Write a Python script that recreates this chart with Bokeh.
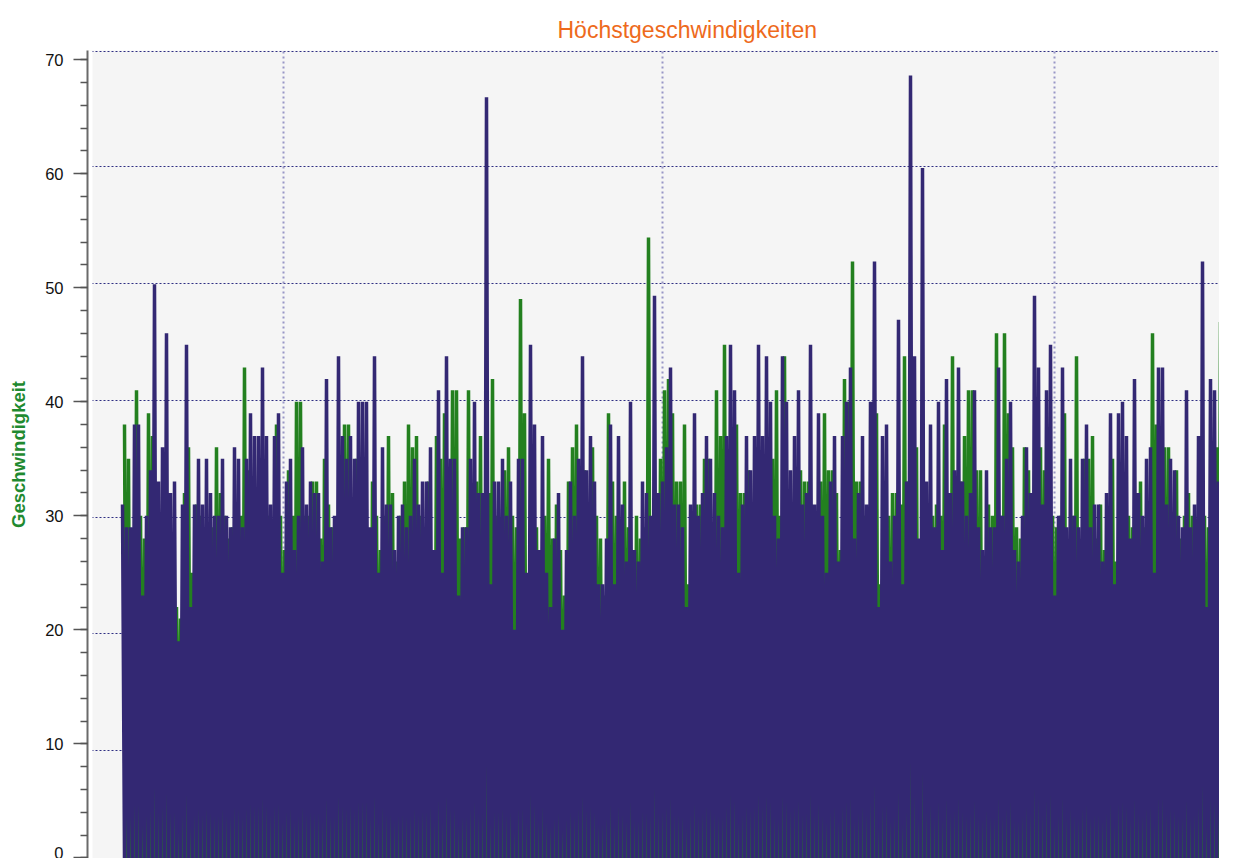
import numpy as np
from bokeh.plotting import figure
from bokeh.models import FixedTicker, SingleIntervalTicker, Grid, Range1d, Title, BoxAnnotation
from bokeh.embed import file_html
from bokeh.resources import INLINE

# ---- data (one value per sample) ----
title_text = "Höchstgeschwindigkeiten"
y_label = "Geschwindigkeit"

navy_peak = [
    31, 29, 29, 38, 38, 23, 30, 34, 50.3, 33, 36, 46, 32, 33, 19, 31, 45, 22, 31, 35,
    31, 35, 32, 30, 30, 35, 30, 29, 36, 35, 29, 35, 39, 37, 37, 43, 37, 31, 37, 39,
    25, 33, 35, 27, 30,
    36, 31, 33, 32, 32, 26, 42, 29, 30, 44, 37, 35, 37, 35, 40, 40, 40, 29, 44, 25,
    36, 31, 31, 27, 30, 31, 29, 30, 35, 31, 33, 33, 36, 27, 41, 25, 44, 35, 35, 23,
    29, 29, 35, 40, 32, 32,
    66.7, 24, 33, 33, 35, 30, 33, 20, 35, 35, 25, 45, 38, 27, 37, 25, 22, 28, 32, 20,
    27, 33, 30, 35, 44, 34, 37, 33, 24, 24, 28, 38, 24, 37, 31, 26, 40, 27, 26, 33,
    32, 30, 49.3, 32, 33, 36, 43,
    31, 31, 29, 22, 31, 39, 30, 32, 37, 35, 32, 30, 29, 37, 45, 41, 25, 31, 37, 34,
    37, 45, 37, 44, 40, 30, 28, 44, 40, 34, 37, 41, 31, 32, 45, 31, 39, 30, 25, 33,
    37, 26, 37, 40, 43, 28,
    32, 37, 31, 40, 52.3, 22, 37, 38, 26, 30, 47.2, 24, 33, 68.6, 44, 28, 60.5, 33, 38, 29,
    40, 27, 42, 32, 34, 43, 33, 30, 32, 41, 29, 27, 34, 29, 29, 43, 30, 35, 40, 27,
    26, 30, 36, 32, 49.3, 43, 31,
    41, 45, 23, 30, 43, 29, 35, 30, 29, 35, 38, 29, 31, 31, 26, 32, 39, 24, 39, 40,
    37, 28, 42, 32, 30, 35, 36, 25, 43, 43, 31, 35, 34, 30, 29, 41, 29, 31, 37, 52.3,
    22, 42, 41, 33, 31, 37, 29,
]

navy_low = [
    0, 0, 0, 0, 0, 0, 0, 0, 0, 0, 0, 0, 0, 0, 0, 0, 0, 0, 0, 0,
    0, 0, 0, 0, 0, 0, 0, 0, 0, 0, 0, 0, 0, 0, 0, 0, 0, 0, 0, 0,
    0, 0, 0, 0, 0, 0, 0, 0, 0, 0, 0, 0, 0, 0, 0, 0, 0, 0, 0, 0,
    0, 0, 0, 0, 0, 0, 0, 0, 0, 0, 0, 0, 0, 0, 0, 0, 0, 0, 0, 0,
    0, 0, 0, 0, 0, 0, 0, 0, 0, 0, 0, 0, 0, 0, 0, 0, 0, 0, 0, 0,
    0, 0, 0, 0, 0, 0, 0, 0, 0, 0, 0, 0, 0, 0, 0, 0, 0, 0, 0, 0,
    0, 0, 0, 0, 0, 0, 0, 0, 0, 0, 0, 0, 0, 0, 0, 0, 0, 0, 0, 0,
    0, 0, 0, 0, 0, 0, 0, 0, 0, 0, 0, 0, 0, 0, 0, 0, 0, 0, 0, 0,
    0, 0, 0, 0, 0, 0, 0, 0, 0, 0, 0, 0, 0, 0, 0, 0, 0, 0, 0, 0,
    0, 0, 0, 0, 0, 0, 0, 0, 0, 0, 0, 0, 0, 0, 0, 0, 0, 0, 0, 0,
    0, 0, 0, 0, 0, 0, 0, 0, 0, 0, 0, 0, 0, 0, 0, 0, 0, 0, 0, 0,
    0, 0, 0, 0, 0, 0, 0, 0, 0, 0, 0, 0, 0, 0, 0, 0, 0, 0, 0, 0,
    0, 0, 0, 0, 0, 0, 0, 0, 0, 0, 0, 0, 0, 0, 0, 0, 0, 0, 0, 0,
    0, 0, 0, 0, 0, 0, 0, 0, 0, 0, 0, 0, 0, 0, 0, 0, 0, 0,
]

green_peak = [
    38, 35, 26, 41, 30, 28, 39, 37, 30, 25, 30, 27, 26, 22, 21, 32, 36, 25, 31, 30,
    26, 28, 29, 36, 32, 30, 28, 29, 31, 30, 43, 34, 30, 29, 34, 31, 30, 27, 38, 30,
    27, 34, 30, 40, 40,
    30, 30, 33, 33, 28, 35, 31, 29, 26, 29, 38, 38, 30, 35, 33, 30, 28, 33, 30, 27,
    30, 37, 32, 26, 30, 33, 38, 36, 37, 30, 28, 33, 27, 37, 35, 39, 30, 41, 41, 28,
    29, 41, 30, 33, 37, 31,
    32, 42, 30, 29, 34, 36, 30, 29, 49, 39, 22, 30, 29, 24, 30, 35, 28, 31, 27, 23,
    33, 36, 38, 30, 34, 30, 36, 30, 28, 23, 39, 33, 30, 28, 33, 29, 27, 30, 28, 29,
    54.4, 28, 30, 35, 41, 42, 39,
    33, 33, 38, 24, 30, 31, 31, 35, 35, 29, 41, 37, 45, 30, 37, 38, 32, 32, 34, 30,
    36, 35, 28, 28, 35, 41, 30, 44, 28, 28, 33, 34, 33, 33, 30, 26, 33, 39, 34, 34,
    32, 27, 42, 40, 52.3, 33,
    33, 30, 28, 30, 39, 24, 28, 30, 32, 32, 31, 44, 33, 40, 36, 27, 30, 29, 30, 31,
    30, 38, 30, 44, 30, 33, 37, 41, 41, 34, 34, 26, 31, 30, 46, 30, 46, 39, 36, 29,
    28, 36, 34, 30, 37, 36, 34,
    31, 30, 29, 30, 39, 27, 30, 44, 26, 35, 35, 37, 28, 31, 27, 30, 35, 26, 30, 31,
    30, 29, 30, 33, 29, 30, 46, 38, 30, 36, 36, 30, 34, 28, 30, 32, 30, 28, 30, 30,
    29, 30, 36, 47, 36, 30, 38,
]

green_low = list(navy_low)

# ---- styling constants ----
NAVY = "#332873"
GREEN = "#23801f"
ORANGE = "#ee6a1c"
FONT = "Liberation Sans"
grid_y = [9.4, 19.64, 29.88, 40.12, 50.36, 60.6, 70.7]
grid_x = [40.25, 135, 233]


def zigzag(peaks, lows, shift):
    xs, ys = [], []
    for i, (a, b) in enumerate(zip(peaks, lows)):
        xs += [i + shift, i + shift + 0.5]
        ys += [a, b]
    return xs, ys


p = figure(width=1219, height=858, output_backend="svg", toolbar_location=None,
           x_axis_location=None,
           x_range=Range1d(-8.75, 274.25), y_range=Range1d(-0.05, 70.8),
           min_border_left=87, min_border_right=0, min_border_top=50, min_border_bottom=0)
p.background_fill_color = "#f5f5f5"
p.border_fill_color = "white"
p.outline_line_color = None

p.title = Title(text=title_text, align="left", offset=470, standoff=16, text_font=FONT,
                text_font_size="23px", text_font_style="normal", text_color=ORANGE)

# grids
for g in p.xgrid:
    g.visible = False
p.ygrid.ticker = FixedTicker(ticks=grid_y)
p.ygrid.grid_line_color = "#2e2e82"
p.ygrid.grid_line_dash = "2 2"
p.ygrid.grid_line_width = 1
xg = Grid(dimension=0, ticker=FixedTicker(ticks=grid_x), grid_line_color="#9896c6",
          grid_line_dash="2 3", grid_line_width=2)
p.add_layout(xg)

# y axis
ya = p.yaxis[0]
ya.ticker = SingleIntervalTicker(interval=10, num_minor_ticks=5)
ya.major_tick_out = 14
ya.major_tick_in = 0
ya.minor_tick_out = 7
ya.minor_tick_in = 0
ya.axis_line_color = "#6a6a6a"
ya.axis_line_width = 2
ya.major_tick_line_color = "#555555"
ya.major_tick_line_width = 1.5
ya.minor_tick_line_color = "#555555"
ya.minor_tick_line_width = 1.5
ya.major_label_text_font = FONT
ya.major_label_text_font_size = "16.5px"
ya.major_label_text_color = "#111111"
ya.major_label_standoff = 10
ya.axis_label = y_label
ya.axis_label_text_font = FONT
ya.axis_label_text_font_size = "18.5px"
ya.axis_label_text_font_style = "bold"
ya.axis_label_text_color = "#1f8a30"
ya.axis_label_standoff = 13

# white strip between axis line and plotting background
p.add_layout(BoxAnnotation(right=-7.5, fill_color="white", fill_alpha=1.0,
                           line_alpha=0, level="underlay"))

gx, gy = zigzag(green_peak, green_low, 0.5)
nx, ny = zigzag(navy_peak, navy_low, 0.0)
p.line(gx, gy, line_color=GREEN, line_width=3.5)
p.line(nx, ny, line_color=NAVY, line_width=3.5)

open("out.html", "w").write(file_html(p, INLINE))
